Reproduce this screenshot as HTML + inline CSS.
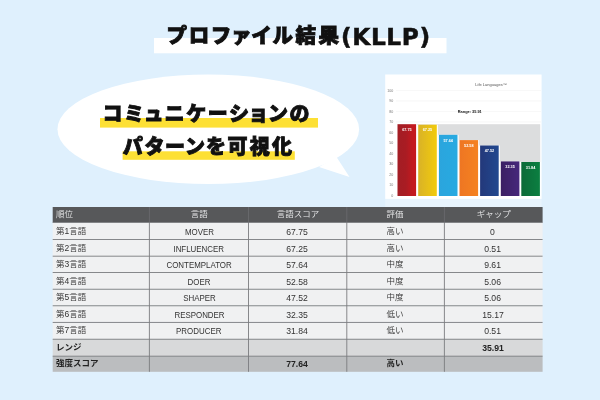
<!DOCTYPE html>
<html lang="ja">
<head>
<meta charset="utf-8">
<title>プロファイル結果(KLLP)</title>
<style>
html,body{margin:0;padding:0;}
body{width:600px;height:400px;overflow:hidden;background:#dff0fd;position:relative;
  font-family:"Liberation Sans","Noto Sans CJK JP",sans-serif;color:#2b2b2b;}
.abs{position:absolute;will-change:transform;}
.jp{font-family:"Noto Sans CJK JP","Liberation Sans",sans-serif;}
#title{-webkit-text-stroke:0.9px #111;left:167.3px;top:17.9px;font-size:20.5px;line-height:32px;font-weight:900;color:#111;white-space:nowrap;letter-spacing:2.58px;font-feature-settings:"palt";}
#title2{-webkit-text-stroke:0.5px #111;left:341px;top:20.6px;font-family:"DejaVu Sans","Liberation Sans",sans-serif;font-size:23.3px;line-height:32px;font-weight:700;color:#111;white-space:nowrap;letter-spacing:0.6px;}
#bubble{left:0;top:0;width:600px;height:400px;}
.bt{-webkit-text-stroke:0.9px #111;font-size:20px;line-height:28px;font-weight:900;color:#111;white-space:nowrap;font-feature-settings:"palt";}
#bt1{left:102.5px;top:99.3px;letter-spacing:2.37px;}
#bt2{left:123.3px;top:131.6px;letter-spacing:2.15px;}
#chart{left:385px;top:74px;width:157px;height:134px;}
#tblbg{left:0;top:0;width:600px;height:400px;}
#tbl{left:52.7px;top:207.0px;width:489.9px;}
.row{position:absolute;left:0;width:489.9px;}
.c{position:absolute;top:0;height:100%;box-sizing:border-box;font-size:8.5px;white-space:nowrap;text-align:center;}
.c1{left:0;width:96.7px;text-align:left;padding-left:3px;}
.c2{left:96.7px;width:99.1px;}
.c3{left:195.8px;width:98.3px;}
.c4{left:293.2px;width:97.6px;}
.c5{left:391.7px;width:98.2px;}
.hd{color:#e6e7e8;font-weight:350;}
.dr{color:#333;font-weight:350;}
.rg{color:#222;font-weight:700;}
.st{color:#222;font-weight:700;}
.num{display:inline-block;font-size:9px;transform:translate(-1.2px,.7px) scaleX(.96);transform-origin:50% 50%;}
.nar{display:inline-block;font-size:9px;transform:translate(0,.5px) scaleX(.88);transform-origin:50% 50%;}
</style>
</head>
<body>
<svg class="abs" id="bubble" viewBox="0 0 600 400">
  <ellipse cx="208.3" cy="129.3" rx="150.8" ry="54.8" fill="#ffffff"/>
  <polygon points="336.5,157 349.5,177 319,167" fill="#ffffff"/>
  <rect x="100" y="118" width="218" height="9.6" fill="#fde035"/>
  <rect x="122.6" y="151.3" width="172.2" height="8.5" fill="#fde035"/>
  <rect x="154" y="38" width="292.5" height="15.3" fill="#ffffff"/>
</svg>
<div class="abs jp" id="title">プロファイル結果</div><div class="abs" id="title2">(KLLP)</div>

<div class="abs jp bt" id="bt1">コミュニケーションの</div>
<div class="abs jp bt" id="bt2">パターンを可視化</div>

<svg class="abs" id="chart" viewBox="385 74 157 134">
  <defs>
    <linearGradient id="g1" x1="0" x2="1" y1="0" y2="0"><stop offset="0" stop-color="#a31d24"/><stop offset="0.45" stop-color="#a91c23"/><stop offset="0.8" stop-color="#c2191f"/><stop offset="1" stop-color="#c5181e"/></linearGradient>
    <linearGradient id="g2" x1="0" x2="1" y1="0" y2="0"><stop offset="0" stop-color="#d9b227"/><stop offset="1" stop-color="#f2cb0c"/></linearGradient>
    <linearGradient id="g3" x1="0" x2="1" y1="0" y2="0"><stop offset="0" stop-color="#2ba5dd"/><stop offset="1" stop-color="#27aae1"/></linearGradient>
    <linearGradient id="g4" x1="0" x2="1" y1="0" y2="0"><stop offset="0" stop-color="#ee7623"/><stop offset="1" stop-color="#f58220"/></linearGradient>
    <linearGradient id="g5" x1="0" x2="1" y1="0" y2="0"><stop offset="0" stop-color="#23387a"/><stop offset="1" stop-color="#21488f"/></linearGradient>
    <linearGradient id="g6" x1="0" x2="1" y1="0" y2="0"><stop offset="0" stop-color="#3b1f63"/><stop offset="1" stop-color="#46277b"/></linearGradient>
    <linearGradient id="g7" x1="0" x2="1" y1="0" y2="0"><stop offset="0" stop-color="#0b6a38"/><stop offset="1" stop-color="#0b7f41"/></linearGradient>
  </defs>
  <rect x="385.2" y="74.5" width="156.4" height="124.4" fill="#ffffff"/>
  <rect x="385.2" y="198.9" width="156.4" height="8.1" fill="#ffffff" fill-opacity="0.3"/>
  <g stroke="#efefef" stroke-width="0.5">
    <line x1="396" x2="541" y1="90.4" y2="90.4"/><line x1="396" x2="541" y1="100.9" y2="100.9"/>
    <line x1="396" x2="541" y1="111.4" y2="111.4"/><line x1="396" x2="541" y1="121.9" y2="121.9"/>
  </g>
  <rect x="397" y="124.2" width="143.2" height="37.8" fill="#dcddde"/>
  <rect x="396.4" y="124.2" width="20.8" height="71.2" fill="#ffffff"/><rect x="397.5" y="124.2" width="18.6" height="71.8" fill="url(#g1)"/>
  <rect x="417.1" y="124.7" width="20.8" height="70.7" fill="#ffffff"/><rect x="418.2" y="124.7" width="18.6" height="71.3" fill="url(#g2)"/>
  <rect x="437.8" y="134.8" width="20.8" height="60.6" fill="#ffffff"/><rect x="438.9" y="134.8" width="18.6" height="61.2" fill="url(#g3)"/>
  <rect x="458.4" y="140.1" width="20.8" height="55.3" fill="#ffffff"/><rect x="459.5" y="140.1" width="18.6" height="55.9" fill="url(#g4)"/>
  <rect x="479.0" y="145.5" width="20.8" height="49.9" fill="#ffffff"/><rect x="480.1" y="145.5" width="18.6" height="50.5" fill="url(#g5)"/>
  <rect x="499.7" y="161.4" width="20.8" height="34.0" fill="#ffffff"/><rect x="500.8" y="161.4" width="18.6" height="34.6" fill="url(#g6)"/>
  <rect x="520.2" y="162.0" width="20.8" height="33.4" fill="#ffffff"/><rect x="521.3" y="162.0" width="18.6" height="34.0" fill="url(#g7)"/>
  <g font-family="Liberation Sans, sans-serif" font-size="3.6" fill="#777777" text-anchor="end">
    <text x="393.2" y="91.7">100</text><text x="393.2" y="102.2">90</text><text x="393.2" y="112.7">80</text>
    <text x="393.2" y="123.2">70</text><text x="393.2" y="133.7">60</text><text x="393.2" y="144.2">50</text>
    <text x="393.2" y="154.7">40</text><text x="393.2" y="165.2">30</text><text x="393.2" y="175.7">20</text>
    <text x="393.2" y="186.2">10</text><text x="393.2" y="196.7">0</text>
  </g>
  <text x="491" y="86" font-family="Liberation Sans, sans-serif" font-size="4" fill="#555" text-anchor="middle">Life Languages™</text>
  <text x="469.8" y="113" font-family="Liberation Sans, sans-serif" font-size="3.9" font-weight="700" fill="#111" text-anchor="middle">Range: 35.91</text>
  <g font-family="Liberation Sans, sans-serif" font-size="3.8" font-weight="700" fill="#ffffff" text-anchor="middle">
    <text x="406.9" y="130.9">67.75</text><text x="427.5" y="131.4">67.25</text><text x="448.2" y="141.5">57.64</text>
    <text x="468.8" y="146.8">52.58</text><text x="489.4" y="152.2">47.52</text><text x="510.1" y="168.1">32.35</text>
    <text x="530.6" y="168.7">31.84</text>
  </g>
</svg>

<svg class="abs" id="tblbg" viewBox="0 0 600 400">
  <rect x="52.7" y="207.0" width="489.9" height="15.50" fill="#57585a"/>
  <rect x="52.7" y="222.5" width="489.9" height="17.00" fill="#f0f1f2"/>
  <rect x="52.7" y="239.5" width="489.9" height="16.70" fill="#f0f1f2"/>
  <rect x="52.7" y="256.2" width="489.9" height="16.30" fill="#f0f1f2"/>
  <rect x="52.7" y="272.5" width="489.9" height="16.75" fill="#f0f1f2"/>
  <rect x="52.7" y="289.25" width="489.9" height="16.50" fill="#f0f1f2"/>
  <rect x="52.7" y="305.75" width="489.9" height="16.70" fill="#f0f1f2"/>
  <rect x="52.7" y="322.45" width="489.9" height="16.80" fill="#f0f1f2"/>
  <rect x="52.7" y="339.25" width="489.9" height="16.95" fill="#d8d9da"/>
  <rect x="52.7" y="356.2" width="489.9" height="15.60" fill="#bbbdbf"/>
  <g stroke="#7b7c7f" stroke-width="0.9">
    <line x1="52.7" x2="542.6" y1="222.5" y2="222.5"/>
    <line x1="52.7" x2="542.6" y1="239.5" y2="239.5"/>
    <line x1="52.7" x2="542.6" y1="256.2" y2="256.2"/>
    <line x1="52.7" x2="542.6" y1="272.5" y2="272.5"/>
    <line x1="52.7" x2="542.6" y1="289.25" y2="289.25"/>
    <line x1="52.7" x2="542.6" y1="305.75" y2="305.75"/>
    <line x1="52.7" x2="542.6" y1="322.45" y2="322.45"/>
    <line x1="52.7" x2="542.6" y1="339.25" y2="339.25"/>
    <line x1="52.7" x2="542.6" y1="356.2" y2="356.2"/>
    <line x1="149.4" x2="149.4" y1="222.5" y2="371.8"/><line x1="149.4" x2="149.4" y1="207.0" y2="222.5" stroke="#696a6d"/>
    <line x1="248.5" x2="248.5" y1="222.5" y2="371.8"/><line x1="248.5" x2="248.5" y1="207.0" y2="222.5" stroke="#696a6d"/>
    <line x1="346.8" x2="346.8" y1="222.5" y2="371.8"/><line x1="346.8" x2="346.8" y1="207.0" y2="222.5" stroke="#696a6d"/>
    <line x1="444.4" x2="444.4" y1="222.5" y2="371.8"/><line x1="444.4" x2="444.4" y1="207.0" y2="222.5" stroke="#696a6d"/>
  </g>
</svg>
<div class="abs" id="tbl">
  <div class="row hd" style="top:0.00px;height:15.50px;line-height:15.50px;">
    <div class="c c1">順位</div><div class="c c2">言語</div><div class="c c3">言語スコア</div><div class="c c4">評価</div><div class="c c5">ギャップ</div>
  </div>
  <div class="row dr" style="top:15.50px;height:17.00px;line-height:17.00px;">
    <div class="c c1">第1言語</div><div class="c c2"><span class="nar">MOVER</span></div><div class="c c3"><span class="num">67.75</span></div><div class="c c4">高い</div><div class="c c5"><span class="num">0</span></div>
  </div>
  <div class="row dr" style="top:32.50px;height:16.70px;line-height:16.70px;">
    <div class="c c1">第2言語</div><div class="c c2"><span class="nar">INFLUENCER</span></div><div class="c c3"><span class="num">67.25</span></div><div class="c c4">高い</div><div class="c c5"><span class="num">0.51</span></div>
  </div>
  <div class="row dr" style="top:49.20px;height:16.30px;line-height:16.30px;">
    <div class="c c1">第3言語</div><div class="c c2"><span class="nar">CONTEMPLATOR</span></div><div class="c c3"><span class="num">57.64</span></div><div class="c c4">中度</div><div class="c c5"><span class="num">9.61</span></div>
  </div>
  <div class="row dr" style="top:65.50px;height:16.75px;line-height:16.75px;">
    <div class="c c1">第4言語</div><div class="c c2"><span class="nar">DOER</span></div><div class="c c3"><span class="num">52.58</span></div><div class="c c4">中度</div><div class="c c5"><span class="num">5.06</span></div>
  </div>
  <div class="row dr" style="top:82.25px;height:16.50px;line-height:16.50px;">
    <div class="c c1">第5言語</div><div class="c c2"><span class="nar">SHAPER</span></div><div class="c c3"><span class="num">47.52</span></div><div class="c c4">中度</div><div class="c c5"><span class="num">5.06</span></div>
  </div>
  <div class="row dr" style="top:98.75px;height:16.70px;line-height:16.70px;">
    <div class="c c1">第6言語</div><div class="c c2"><span class="nar">RESPONDER</span></div><div class="c c3"><span class="num">32.35</span></div><div class="c c4">低い</div><div class="c c5"><span class="num">15.17</span></div>
  </div>
  <div class="row dr" style="top:115.45px;height:16.80px;line-height:16.80px;">
    <div class="c c1">第7言語</div><div class="c c2"><span class="nar">PRODUCER</span></div><div class="c c3"><span class="num">31.84</span></div><div class="c c4">低い</div><div class="c c5"><span class="num">0.51</span></div>
  </div>
  <div class="row rg" style="top:132.25px;height:16.95px;line-height:16.95px;">
    <div class="c c1">レンジ</div><div class="c c2"></div><div class="c c3"></div><div class="c c4"></div><div class="c c5"><span class="num">35.91</span></div>
  </div>
  <div class="row st" style="top:149.20px;height:15.60px;line-height:15.60px;">
    <div class="c c1">強度スコア</div><div class="c c2"></div><div class="c c3"><span class="num">77.64</span></div><div class="c c4">高い</div><div class="c c5"></div>
  </div>
</div>
</body>
</html>
